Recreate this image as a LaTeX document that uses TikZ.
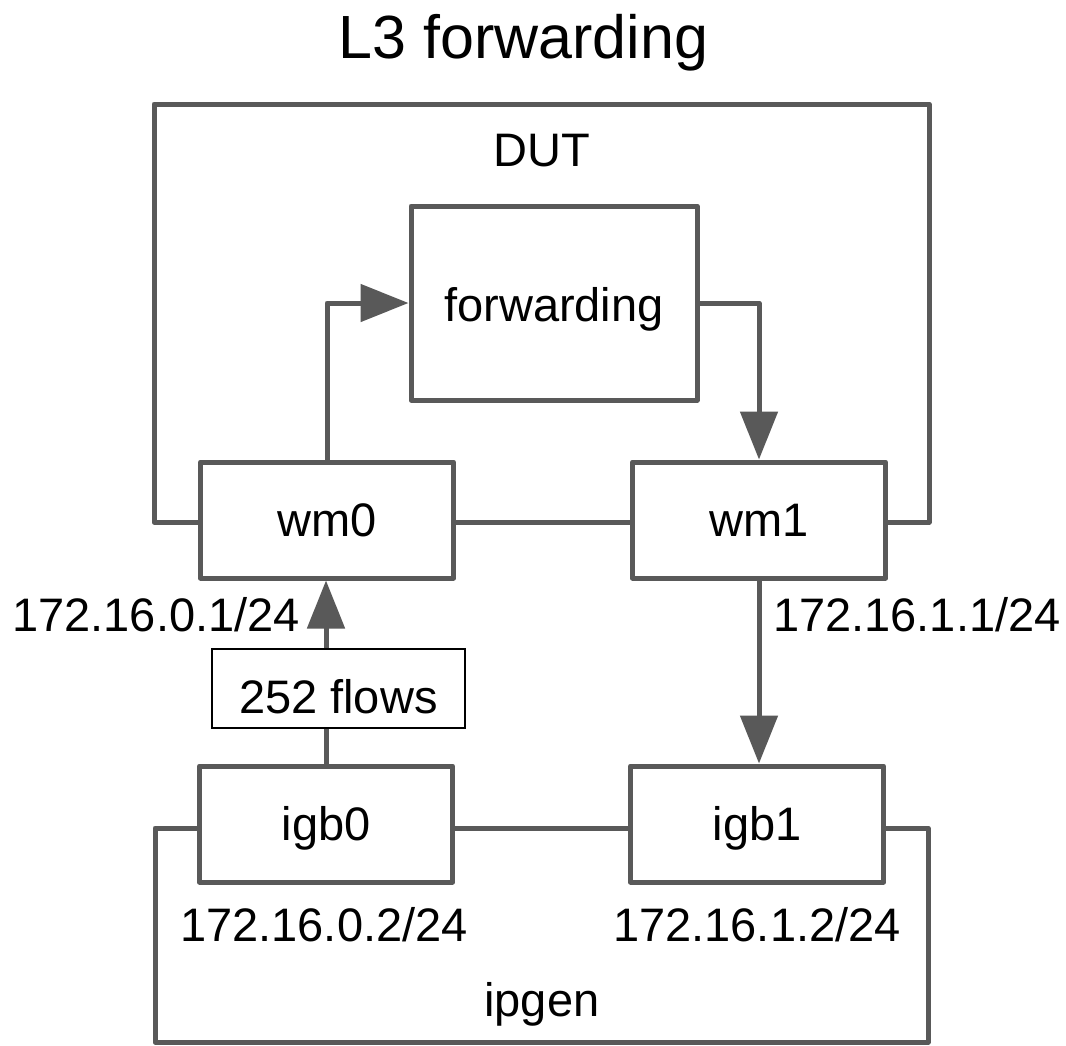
\documentclass[tikz,border=0pt]{standalone}
\usepackage{fontspec}
\setmainfont{Liberation Sans}
\usetikzlibrary{arrows.meta}
\definecolor{linegray}{HTML}{595959}
\tikzset{
  lbl/.style={inner sep=0pt, font=\fontsize{47}{50}\selectfont},
  ttl/.style={inner sep=0pt, font=\fontsize{61}{64}\selectfont},
  ifbox/.style={draw=linegray, line width=5pt, line join=round, fill=white,
    minimum width=253pt, minimum height=116pt, inner sep=0pt,
    font=\fontsize{47}{50}\selectfont, text height=33.4pt, text depth=0pt},
  conn/.style={draw=linegray, line width=5pt, line join=round},
  arr/.style={conn, -{Triangle[length=48pt, width=37pt]}},
}
\begin{document}
\begin{tikzpicture}[x=1pt, y=-1pt]
\useasboundingbox (0,0) rectangle (1066,1045);
\fill[white] (0,0) rectangle (1066,1045);

% title
\node[ttl, anchor=base] (title) at (523.5,58) {L3 forwarding};

% nodes
\node[ifbox] (wm0) at (327,520) {wm0};
\node[ifbox] (wm1) at (759,520) {wm1};
\node[ifbox] (igb0) at (326,824) {igb0};
\node[ifbox] (igb1) at (757,824) {igb1};
\node[ifbox, minimum width=286pt, minimum height=194pt, text height=37.6pt] (fwd) at (554,303) {forwarding};

% DUT frame
\coordinate (dutTL) at (154,104);
\coordinate (dutTR) at (929,104);
\draw[conn] ([yshift=-2pt]wm0.west) -| (dutTL) -- (dutTR) |- ([yshift=-2pt]wm1.east);
\draw[conn] ([yshift=-2pt]wm0.east) -- ([yshift=-2pt]wm1.west);
\node[lbl, anchor=base] (dut) at (541.5,166.7) {DUT};

% ipgen frame
\coordinate (ipBL) at (155,1042);
\coordinate (ipBR) at (928,1042);
\draw[conn] ([yshift=-4pt]igb0.west) -| (ipBL) -- (ipBR) |- ([yshift=-4pt]igb1.east);
\draw[conn] ([yshift=-4pt]igb0.east) -- ([yshift=-4pt]igb1.west);
\node[lbl, anchor=base] (ipgen) at (541.8,1016.7) {ipgen};

% arrows
\draw[arr] (wm0.north) |- (fwd.west);
\draw[arr] (fwd.east) -| (wm1.north);
\draw[arr] (wm1.south) -- (wm1.south |- igb1.north);
\draw[arr] (igb0.north) -- (igb0.north |- wm0.south);

% flows box
\node[draw=black, line width=1.5pt, fill=white, minimum width=253pt, minimum height=79pt,
  inner sep=0pt, font=\fontsize{47}{50}\selectfont, text height=49pt, text depth=0pt]
  (flows) at (338.3,688.5) {252 flows};

% address labels
\node[lbl, anchor=base east] (a01) at (300,631.7) {172.16.0.1/24};
\node[lbl, anchor=base west] (a11) at (773,631.7) {172.16.1.1/24};
\node[lbl, anchor=base] (a02) at (324,941.7) {172.16.0.2/24};
\node[lbl, anchor=base] (a12) at (757,941.7) {172.16.1.2/24};
\end{tikzpicture}
\end{document}
